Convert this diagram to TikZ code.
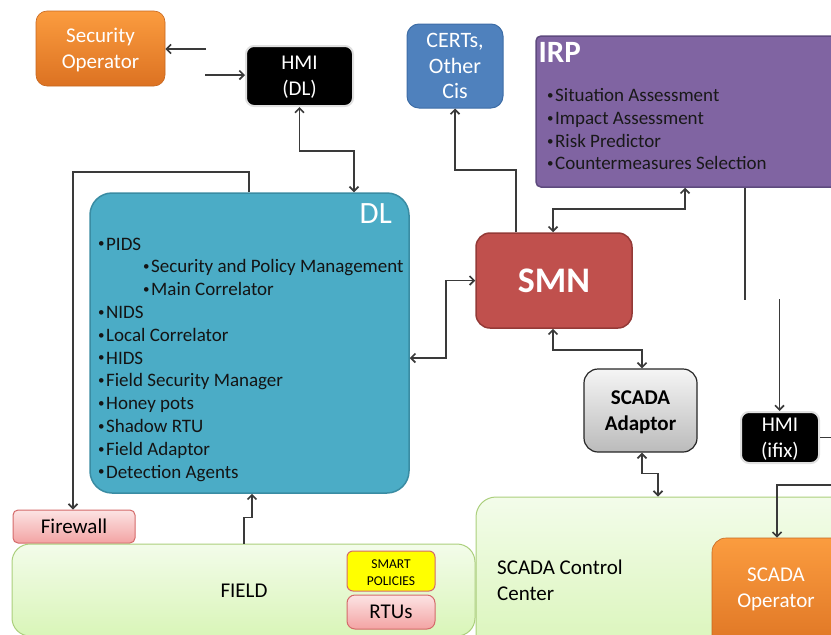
\documentclass[tikz,border=0pt]{standalone}
\usepackage{fontspec}
\setmainfont{Carlito}
\usetikzlibrary{arrows.meta,calc}
\definecolor{orT}{HTML}{FB9C3F}
\definecolor{orB}{HTML}{DC7222}
\definecolor{certc}{HTML}{4F81BD}
\definecolor{certd}{HTML}{3D6DA6}
\definecolor{irpc}{HTML}{8064A2}
\definecolor{irpd}{HTML}{5E4A7E}
\definecolor{smnc}{HTML}{C0504D}
\definecolor{smnd}{HTML}{943A37}
\definecolor{dlc}{HTML}{4BACC6}
\definecolor{dld}{HTML}{3A8CA3}
\definecolor{grT}{HTML}{F3FCEA}
\definecolor{grB}{HTML}{D9F5B8}
\definecolor{grD}{HTML}{ABCF7C}
\definecolor{pkT}{HTML}{FCE4E4}
\definecolor{pkB}{HTML}{F3A3A3}
\definecolor{pkD}{HTML}{D46A6A}
\definecolor{gyT}{HTML}{F5F5F5}
\definecolor{gyB}{HTML}{BBBBBB}
\definecolor{ylw}{HTML}{FFFF00}
\definecolor{ln}{HTML}{3A3A3A}
\newcommand\bul{\raisebox{2.2pt}{\fontsize{13}{13}\selectfont•}\hspace{1.5pt}}
\tikzset{
  box/.style={rectangle, inner sep=0pt, align=center},
  lbl/.style={font=\fontsize{21}{26}\selectfont},
  orangebox/.style={box, lbl, top color=orT, bottom color=orB, draw=orB!90!black, line width=0.6pt, rounded corners=11pt, text=white, text depth=0pt},
  hmibox/.style={box, lbl, fill=black, draw=black!12, line width=2pt, rounded corners=8pt, text=white, text depth=0pt},
  greenbox/.style={box, lbl, top color=grT, bottom color=grB, draw=grD, line width=1pt, rounded corners=20pt},
  pinkbox/.style={box, lbl, top color=pkT, bottom color=pkB, draw=pkD, line width=1pt, rounded corners=5pt},
  conn/.style={draw=ln, line width=1.7pt},
  tip/.tip={Straight Barb[length=4.5pt,width=9pt]},
  onearr/.style={conn, -tip},
  twoarr/.style={conn, tip-tip},
}
\begin{document}
\begin{tikzpicture}[x=1pt,y=-1pt]
\useasboundingbox (0,0) rectangle (831,635);
\clip (0,0) rectangle (831,635);

% ---- boxes ----
\node[orangebox, minimum width=129pt, minimum height=75pt] (secop) at (100.5,48.5) {Security\\Operator};
\node[hmibox, minimum width=107pt, minimum height=60pt] (hmidl) at (299.5,76) {HMI\\(DL)};
\node[box, fill=certc, draw=certd, line width=1pt, rounded corners=12pt, text=white,
      font=\fontsize{22}{25.5}\selectfont, minimum width=96pt, minimum height=84pt] (certs) at (455,66) {CERTs,\\Other\\Cis};
\node[box, fill=irpc, draw=irpd, line width=1.5pt, rounded corners=5pt, minimum width=320pt, minimum height=151pt] (irp) at (696,111.5) {};
\node[anchor=base west, inner sep=0pt, text=white, font=\fontsize{31}{31}\selectfont\bfseries] (irptitle) at (538.5,62) {IRP};
\node[anchor=north west, inner sep=0pt, align=left, text=black!90, font=\fontsize{19}{22.7}\selectfont] (irplist) at (547,88.5)
  {\bul Situation Assessment\\\bul Impact Assessment\\\bul Risk Predictor\\\bul Countermeasures Selection};

\node[box, fill=smnc, draw=smnd, line width=1.5pt, rounded corners=14pt, text=white,
      font=\fontsize{36}{36}\selectfont\bfseries, minimum width=156pt, minimum height=95pt] (smn) at (554,280.5) {SMN};

\node[box, fill=dlc, draw=dld, line width=1.5pt, rounded corners=22pt, minimum width=319pt, minimum height=300pt] (dl) at (249.5,343) {};
\node[anchor=base east, inner sep=0pt, text=white, font=\fontsize{31}{31}\selectfont] (dltitle) at (392,223) {DL};
\node[anchor=north west, inner sep=0pt, align=left, text=black!92, font=\fontsize{19}{22.8}\selectfont] (dllist) at (98,237.5)
  {\bul PIDS\\\hspace*{45pt}\bul Security and Policy Management\\\hspace*{45pt}\bul Main Correlator\\\bul NIDS\\\bul Local Correlator\\\bul HIDS\\\bul Field Security Manager\\\bul Honey pots\\\bul Shadow RTU\\\bul Field Adaptor\\\bul Detection Agents};

\node[box, top color=gyT, bottom color=gyB, draw=black!85, line width=1.2pt, rounded corners=14pt, text depth=0pt,
      font=\fontsize{21}{26}\selectfont\bfseries, minimum width=113pt, minimum height=83pt] (scadaad) at (640.5,410.5) {SCADA\\Adaptor};
\node[hmibox, minimum width=78pt, minimum height=51pt] (hmiifix) at (780,437.5) {HMI\\(ifix)};

\node[greenbox, minimum width=380pt, minimum height=160pt] (scc) at (666,577) {};
\node[anchor=west, inner sep=0pt, align=left, lbl] (scctxt) at (497,580.5) {SCADA Control\\Center};
\node[orangebox, rounded corners=14pt, minimum width=138pt, minimum height=120pt] (scadaop) at (781,598) {};
\node[inner sep=0pt, align=center, lbl, text=white, text depth=0pt] (scadaoptxt) at (776,588) {SCADA\\Operator};

\node[pinkbox, minimum width=122pt, minimum height=33pt] (firewall) at (74,526.5) {Firewall};
\node[greenbox, rounded corners=18pt, minimum width=463pt, minimum height=92pt] (field) at (243.5,590) {};
\node[inner sep=0pt, lbl] (fieldtxt) at (244,591) {FIELD};
\node[box, fill=ylw, draw=pkD, line width=1pt, rounded corners=6pt, minimum width=88pt, minimum height=40pt] (smart) at (391,571) {};
\node[inner sep=0pt, align=center, font=\fontsize{13.5}{17}\selectfont, text depth=0pt] (smarttxt) at (391,573) {SMART\\POLICIES};
\node[pinkbox, rounded corners=8pt, minimum width=88pt, minimum height=34pt] (rtus) at (391,612) {RTUs};

% ---- connectors ----
\coordinate (s1) at (206,49);
\coordinate (s2) at (205,75);
\draw[onearr] (s1) -- (secop.east |- s1);
\draw[onearr] (s2) -- (hmidl.west |- s2);
\draw[twoarr] (hmidl.south) -- ++(0,44) -| ([xshift=104.5pt]dl.north);
\draw[onearr] ([xshift=-38pt]smn.north) -- ++(0,-62) -| (certs.south);
\draw[twoarr] ([xshift=-1pt]smn.north) -- ++(0,-23) -| ([xshift=-11pt]irp.south);
\draw[conn] ([xshift=49pt]irp.south) -- ++(0,112);
\coordinate (h1) at (779.5,299);
\draw[onearr] (h1) -- (hmiifix.north -| h1);
\draw[twoarr] ([yshift=-15pt]dl.east) -- ++(36,0) |- (smn.west);
\draw[onearr] ([xshift=-0.5pt]dl.north) -- ++(0,-20) -| ([xshift=-1pt]firewall.north);
\draw[twoarr] ([xshift=-1pt]smn.south) -- ++(0,21) -| ([xshift=1.5pt]scadaad.north);
\draw[twoarr] ([xshift=1.5pt]scadaad.south) -- ++(0,21) -| ([xshift=-8pt]scc.north);
\draw[onearr] ([xshift=0.5pt]field.north) -- ++(0,-26) -| ([xshift=2.5pt]dl.south);
\coordinate (h2) at (831,437.5);
\draw[conn] (hmiifix.east) -- (h2);
\coordinate (h3) at (831,485);
\draw[onearr] (h3) -| ([xshift=-4pt]scadaop.north);
\end{tikzpicture}
\end{document}
